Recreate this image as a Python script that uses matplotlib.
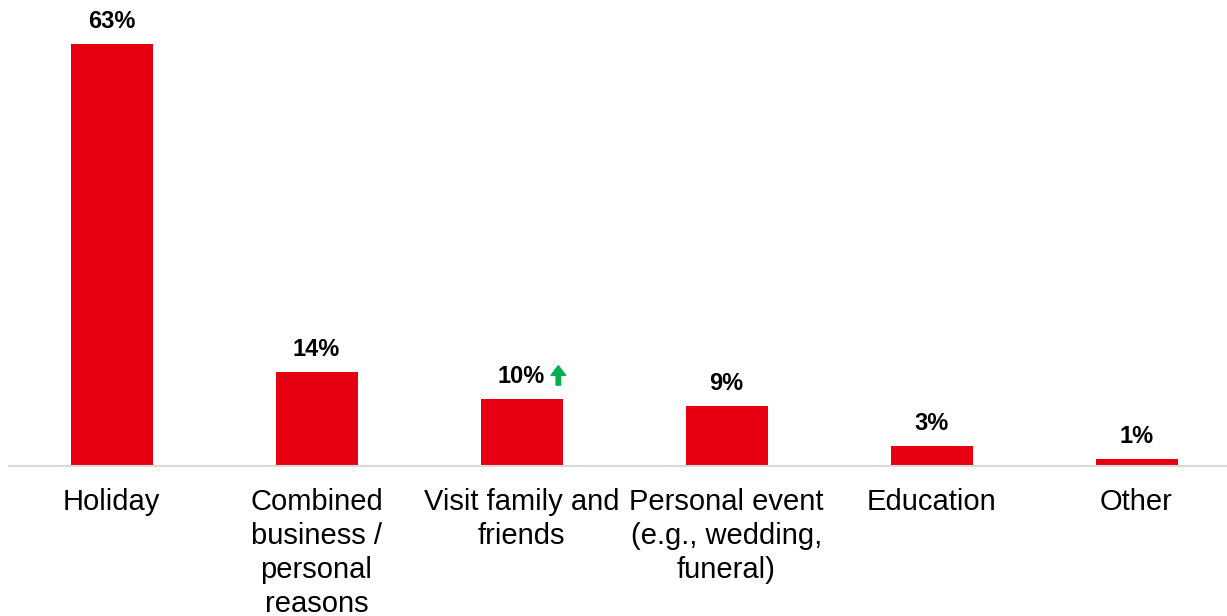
import matplotlib
matplotlib.use("Agg")
import matplotlib.pyplot as plt
from matplotlib.transforms import offset_copy

categories = ["Holiday", "Combined\nbusiness /\npersonal\nreasons", "Visit family and\nfriends",
              "Personal event\n(e.g., wedding,\nfuneral)", "Education", "Other"]
values = [63, 14, 10, 9, 3, 1]
labels = ["63%", "14%", "10%", "9%", "3%", "1%"]
up_arrow = [False, False, True, False, False, False]

plt.rcParams['font.family'] = ['Liberation Sans', 'DejaVu Sans']

fig = plt.figure(figsize=(12.27, 6.16), dpi=100)
ax = fig.add_axes([9/1227, 150/616, 1230/1227, 466/616])
x = list(range(len(categories)))
ax.bar(x, values, width=0.40, color='#E60012', zorder=2)
ax.set_xlim(-0.5, len(categories) - 0.5)
ax.set_ylim(0, 466/6.70)

for xi, v, lab, up in zip(x, values, labels, up_arrow):
    ax.annotate(lab, xy=(xi, v), xytext=(0, 8), textcoords='offset points',
                ha='center', va='bottom', fontsize=17, fontweight='bold', color='black')
    if up:
        t_top = offset_copy(ax.transData, fig=fig, x=26.5, y=24, units='points')
        t_bot = offset_copy(ax.transData, fig=fig, x=26.5, y=10, units='points')
        ax.annotate('', xy=(xi, v), xycoords=t_top, xytext=(xi, v), textcoords=t_bot,
                    arrowprops=dict(arrowstyle='simple,head_width=1.05,head_length=0.7,tail_width=0.32',
                                    color='#00B050', shrinkA=0, shrinkB=0))

for s in ['top', 'right', 'left']:
    ax.spines[s].set_visible(False)
ax.spines['bottom'].set_color('#D9D9D9')
ax.spines['bottom'].set_linewidth(1.5)
ax.set_yticks([])
ax.set_xticks(x)
ax.set_xticklabels(categories, fontsize=21, linespacing=1.28)
ax.tick_params(axis='x', length=0, pad=15.5)

fig.savefig('out.png', dpi=100)
